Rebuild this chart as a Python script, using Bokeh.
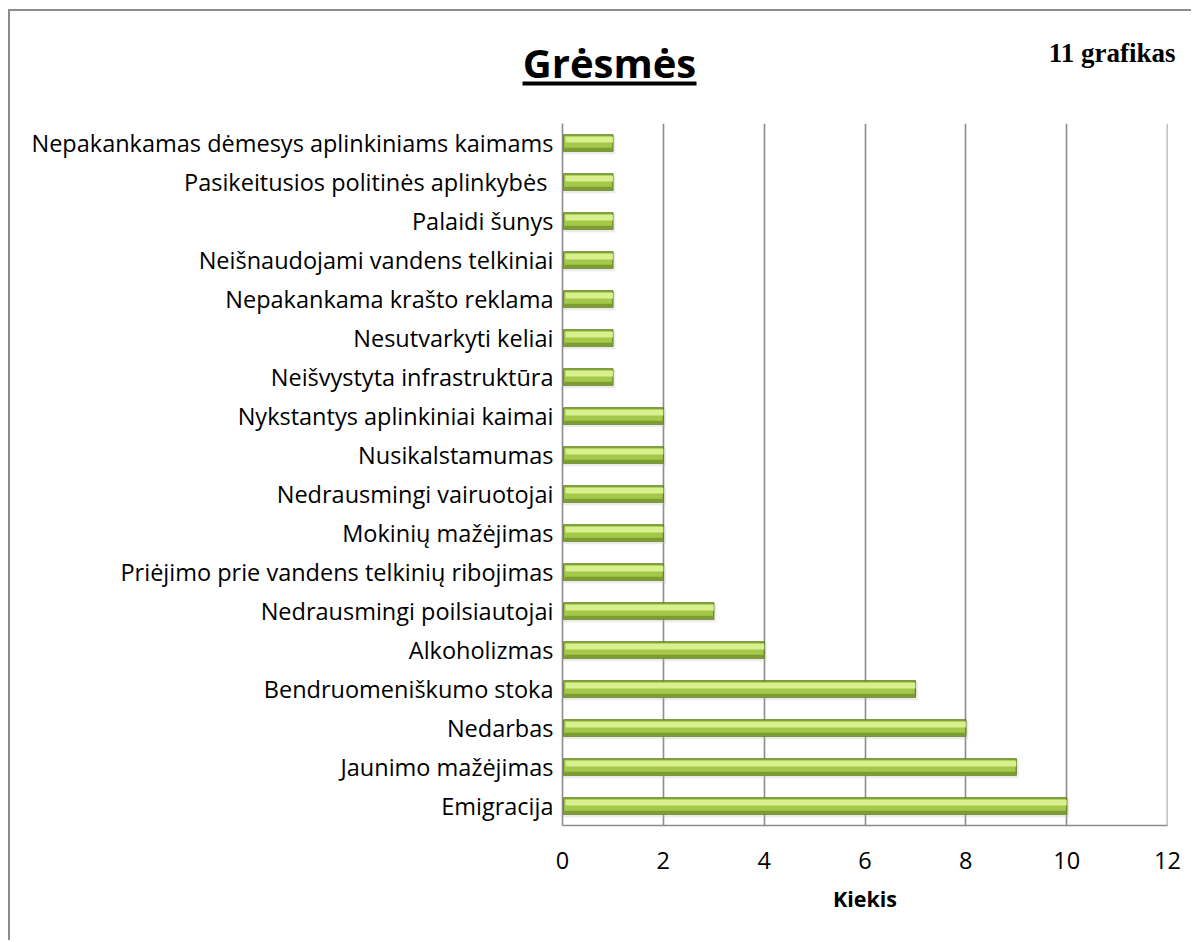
from bokeh.plotting import figure
from bokeh.layouts import column
from bokeh.models import Range1d, FixedTicker, Span, ColumnDataSource
from bokeh.core.properties import value
from bokeh.embed import file_html
from bokeh.resources import INLINE

# ---- data (bottom to top) ----
categories = [
    "Emigracija",
    "Jaunimo mažėjimas",
    "Nedarbas",
    "Bendruomeniškumo stoka",
    "Alkoholizmas",
    "Nedrausmingi poilsiautojai",
    "Priėjimo prie vandens telkinių ribojimas",
    "Mokinių mažėjimas",
    "Nedrausmingi vairuotojai",
    "Nusikalstamumas",
    "Nykstantys aplinkiniai kaimai",
    "Neišvystyta infrastruktūra",
    "Nesutvarkyti keliai",
    "Nepakankama krašto reklama",
    "Neišnaudojami vandens telkiniai",
    "Palaidi šunys",
    "Pasikeitusios politinės aplinkybės ",
    "Nepakankamas dėmesys aplinkiniams kaimams",
]
values = [10, 9, 8, 7, 4, 3, 2, 2, 2, 2, 2, 1, 1, 1, 1, 1, 1, 1]
x_ticks = [0, 2, 4, 6, 8, 10, 12]
title_text = "Grėsmės"
note_text = "11 grafikas"
x_label = "Kiekis"

FONT = "Open Sans"
GRID = "#8c8c8c"
W = 1181

# ---------------- header (title, underline, note) ----------------
HEAD_H = 100
head = figure(width=W, height=HEAD_H, output_backend="svg", toolbar_location=None,
              x_range=Range1d(0, W), y_range=Range1d(HEAD_H, 0),
              x_axis_type=None, y_axis_type=None,
              min_border=0, min_border_left=0, min_border_right=0,
              min_border_top=0, min_border_bottom=0, frame_align=False)
head.outline_line_color = None
head.grid.visible = False
head.background_fill_color = "white"
head.border_fill_color = "white"

head.text(x=[599], y=[50.5], text=[title_text], text_align="center",
          text_baseline="middle", text_font=value(FONT),
          text_font_style="bold", text_font_size="40px", text_color="black")
head.quad(left=[512], right=[686], top=[70], bottom=[74],
          fill_color="black", line_color=None)
head.text(x=[1165], y=[41.5], text=[note_text], text_align="right",
          text_baseline="middle", text_font=value("Liberation Serif"),
          text_font_style="bold", text_font_size="27px", text_color="black")

# ---------------- main chart ----------------
ypos = list(range(len(categories)))
src = ColumnDataSource(dict(
    y=ypos,
    v=values,
    y_sh=[y - 0.06 for y in ypos],
    v_sh=[v + 0.05 for v in values],
    y_hi=[y + 0.085 for y in ypos],
    y_lo=[y - 0.155 for y in ypos],
))

MAIN_H = 829
p = figure(width=W, height=MAIN_H, output_backend="svg", toolbar_location=None,
           x_range=Range1d(0, 12), y_range=Range1d(-0.5, 17.5),
           min_border_left=552, min_border_right=24,
           min_border_top=12, min_border_bottom=MAIN_H - 12 - 702,
           frame_align=False)
p.outline_line_color = None
p.background_fill_color = "white"
p.border_fill_color = "white"

p.ygrid.grid_line_color = None
p.xgrid.grid_line_color = GRID
p.xgrid.grid_line_width = 1.6
p.xgrid.ticker = FixedTicker(ticks=x_ticks)

p.xaxis.ticker = FixedTicker(ticks=x_ticks)
p.xaxis.axis_line_color = GRID
p.xaxis.axis_line_width = 1.6
p.xaxis.major_tick_line_color = None
p.xaxis.minor_tick_line_color = None
p.xaxis.major_tick_out = 0
p.xaxis.major_tick_in = 0
p.xaxis.minor_tick_out = 0
p.xaxis.major_label_standoff = 26
p.xaxis.major_label_text_font = FONT
p.xaxis.major_label_text_font_size = "23.5px"
p.xaxis.major_label_text_color = "black"
p.xaxis.axis_label = x_label
p.xaxis.axis_label_text_font = FONT
p.xaxis.axis_label_text_font_style = "bold"
p.xaxis.axis_label_text_font_size = "21.5px"
p.xaxis.axis_label_standoff = 12
p.xaxis.axis_label_text_color = "black"

p.yaxis.ticker = FixedTicker(ticks=ypos)
p.yaxis.major_label_overrides = {i: c for i, c in enumerate(categories)}
p.yaxis.axis_line_color = GRID
p.yaxis.axis_line_width = 1.6
p.yaxis.major_tick_line_color = None
p.yaxis.minor_tick_line_color = None
p.yaxis.major_tick_out = 0
p.yaxis.major_tick_in = 0
p.yaxis.minor_tick_out = 0
p.yaxis.major_label_standoff = 9
p.yaxis.major_label_text_font = FONT
p.yaxis.major_label_text_font_size = "23.5px"
p.yaxis.major_label_text_color = "black"

p.add_layout(Span(location=12, dimension="height", line_color=GRID, line_width=1.6))

# bars: soft shadow, body, highlight, lower shade
p.hbar(y="y_sh", left=0, right="v_sh", height=0.46, source=src,
       fill_color="#bdbdbd", fill_alpha=0.3, line_color=None)
p.hbar(y="y", left=0.02, right="v", height=0.42, source=src,
       fill_color="#a4c84a", line_color="#5e7d1f", line_width=1.2)
p.hbar(y="y_hi", left=0.06, right="v", height=0.15, source=src,
       fill_color="#d8f08e", line_color=None)
p.hbar(y="y_lo", left=0.04, right="v", height=0.07, source=src,
       fill_color="#7d9c30", line_color=None)

layout = column(head, p, spacing=0,
                styles={"border-top": "2px solid #8c8c8c",
                        "border-left": "2px solid #8c8c8c",
                        "margin-left": "8px", "margin-top": "9px"})

open("out.html", "w").write(file_html(layout, INLINE))
